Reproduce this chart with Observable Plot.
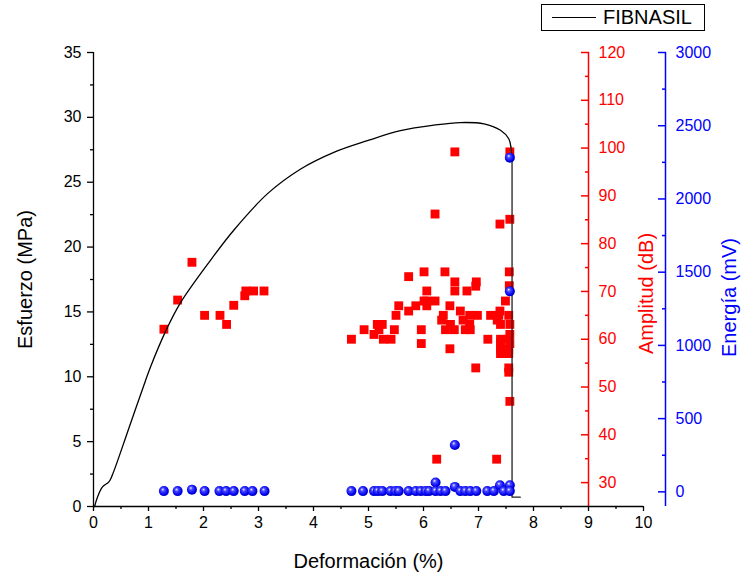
<!DOCTYPE html>
<html>
<head>
<meta charset="utf-8">
<script src="https://cdn.jsdelivr.net/npm/d3@7"></script>
<script src="https://cdn.jsdelivr.net/npm/@observablehq/plot@0.6"></script>
<style>
  html, body { margin: 0; padding: 0; background: white; }
  #chart { position: relative; width: 742px; height: 577px; font-family: "Liberation Sans", Arial, sans-serif; }
  #chart svg { position: absolute; left: 0; top: 0; }
  #legend { position: absolute; left: 541px; top: 4px; width: 164px; height: 27px; box-sizing: border-box;
            border: 1px solid #000; background: white; z-index: 5; }
  #legend .ln { position: absolute; left: 10px; top: 12px; width: 44px; border-top: 1.3px solid #000; }
  #legend .tx { position: absolute; left: 61px; top: 1px; font-size: 20px; line-height: 22px; color: #000; }
</style>
</head>
<body>
<div id="chart"><div id="legend"><div class="ln"></div><div class="tx"></div></div></div>
<script>
// ---------- data ----------
const seriesName = "FIBNASIL";
const xTitle = "Deformación (%)";
const stressTitle = "Esfuerzo (MPa)";
const ampTitle = "Amplitud (dB)";
const enTitle = "Energía (mV)";

const xTicks = [0, 1, 2, 3, 4, 5, 6, 7, 8, 9, 10];
const xMinor = [0.5, 1.5, 2.5, 3.5, 4.5, 5.5, 6.5, 7.5, 8.5, 9.5];
const stressTicks = [0, 5, 10, 15, 20, 25, 30, 35];
const stressMinor = [2.5, 7.5, 12.5, 17.5, 22.5, 27.5, 32.5];
const ampTicks = [30, 40, 50, 60, 70, 80, 90, 100, 110, 120];
const ampMinor = [35, 45, 55, 65, 75, 85, 95, 105, 115];
const enTicks = [0, 500, 1000, 1500, 2000, 2500, 3000];
const enMinor = [250, 750, 1250, 1750, 2250, 2750];

// stress-strain curve: smooth rise to the peak, then the sudden drop at failure
const strainX   = [0.02, 0.07, 0.16, 0.28, 0.34, 0.64, 0.945, 1.04, 1.31, 1.58, 2.13, 2.55, 3.16, 3.76, 4.37, 4.98, 5.58, 6.19, 6.67, 7.1, 7.4, 7.55, 7.59];
const stressMPa = [0, 0.7, 1.5, 1.9, 2.4, 6.0, 9.7, 10.8, 13.5, 15.7, 19.0, 21.3, 24.1, 26.0, 27.3, 28.2, 28.97, 29.4, 29.6, 29.5, 29.0, 28.35, 27.7];
const dropX     = [7.59, 7.61, 7.61, 7.76];
const dropMPa   = [27.7, 27.0, 0.72, 0.72];

// amplitude events (red squares)
const ampX  = [1.28, 1.53, 1.79, 2.02, 2.30, 2.42, 2.55, 2.75, 2.77, 2.91, 3.10,
  4.69, 4.92, 5.10, 5.16, 5.19, 5.25, 5.27, 5.41, 5.47, 5.50, 5.55, 5.73, 5.73, 5.86, 5.96, 5.96,
  6.01, 6.06, 6.06, 6.06, 6.01, 6.21, 6.21, 6.24, 6.33, 6.36, 6.39, 6.40, 6.48, 6.48, 6.49, 6.56,
  6.57, 6.57, 6.57, 6.67, 6.72, 6.76, 6.79, 6.84, 6.84, 6.85, 6.95, 6.96, 6.95, 6.98, 7.17, 7.22,
  7.33, 7.34, 7.37, 7.39, 7.39, 7.40, 7.40, 7.40, 7.40, 7.40, 7.49, 7.55, 7.55, 7.55, 7.55, 7.55,
  7.55, 7.56, 7.56, 7.57, 7.57, 7.57, 7.57, 7.57, 7.57];
const ampDB = [62.1, 68.2, 76.1, 65.0, 65.0, 63.1, 67.1, 69.1, 70.1, 70.1, 70.1,
  60.0, 62.0, 61.0, 63.1, 62.0, 63.1, 60.0, 60.0, 62.0, 65.0, 67.0, 73.1, 65.9, 67.0, 62.0, 59.1,
  74.1, 70.1, 68.0, 67.0, 68.0, 68.0, 86.2, 34.9, 64.0, 65.0, 74.1, 62.0, 67.0, 58.0, 63.1, 62.0,
  99.2, 72.0, 70.1, 65.9, 64.0, 62.0, 70.1, 65.0, 63.1, 62.0, 71.1, 72.0, 54.0, 65.0, 60.0, 65.0,
  34.9, 64.0, 65.0, 84.1, 65.9, 63.1, 60.0, 59.1, 58.0, 57.0, 68.0, 65.0, 60.0, 58.0, 57.0, 54.0,
  53.1, 74.1, 71.2, 99.2, 85.1, 63.1, 61.0, 59.1, 47.0];

// energy events (blue balls)
const enX  = [1.28, 1.53, 1.79, 2.02, 2.29, 2.41, 2.55, 2.75, 2.89, 3.11,
  4.69, 4.90, 5.10, 5.17, 5.25, 5.40, 5.49, 5.55, 5.73, 5.86, 5.95, 6.04, 6.10, 6.22, 6.22,
  6.31, 6.40, 6.57, 6.57, 6.67, 6.76, 6.85, 6.96, 7.16, 7.28, 7.39, 7.46, 7.57, 7.57, 7.57, 7.57];
const enMV = [5, 5, 15, 5, 5, 5, 5, 5, 5, 5,
  5, 5, 5, 5, 5, 5, 5, 5, 5, 5, 5, 5, 5, 64, 5,
  5, 5, 34, 320, 5, 5, 5, 5, 5, 5, 45, 5, 45, 5, 1369, 2282];

// ---------- layout ----------
const W = 742, H = 577, mTop = 52, mBottom = 71, mLeft = 93;
const font = `"Liberation Sans", Arial, sans-serif`;
const chart = document.getElementById("chart");
document.querySelector("#legend .tx").textContent = seriesName;

const curve = strainX.map((x, i) => ({x, y: stressMPa[i]}));
const drop = dropX.map((x, i) => ({x, y: dropMPa[i]}));
const amp = ampX.map((x, i) => ({x, y: ampDB[i]}));
const en = enX.map((x, i) => ({x, y: enMV[i]}));
const blank = () => "";
const plain = d3.format("d");
const titleOpts = {text: d => d, textAnchor: "middle", lineAnchor: "middle", fontSize: 20};

// red layer (bottom, white background); axis at x = 9
const redPlot = Plot.plot({
  width: W, height: H, marginTop: mTop, marginBottom: mBottom, marginLeft: mLeft, marginRight: 154,
  style: {fontFamily: font, fontSize: "16px", background: "white", overflow: "visible"},
  x: {domain: [0, 9], axis: null},
  y: {domain: [25, 120], axis: null},
  marks: [
    Plot.dot(amp, {x: "x", y: "y", symbol: "square", r: 5, fill: "#ff0000", stroke: "none"}),
    Plot.ruleX([9], {stroke: "#ff0000", strokeWidth: 1.5}),
    Plot.axisY(ampMinor, {anchor: "right", dx: -4, tickSize: 4, tickFormat: blank, stroke: "#ff0000", strokeWidth: 1.5, label: null}),
    Plot.axisY(ampTicks, {anchor: "right", dx: -8, tickSize: 8, tickPadding: 10, tickFormat: plain, stroke: "#ff0000", fill: "#ff0000", strokeWidth: 1.5, label: null}),
    Plot.text([ampTitle], {...titleOpts, frameAnchor: "right", dx: 58, dy: 14, rotate: -90, fill: "#ff0000"})
  ]
});

// stress layer (transparent)
const stressPlot = Plot.plot({
  width: W, height: H, marginTop: mTop, marginBottom: mBottom, marginLeft: mLeft, marginRight: 99,
  style: {fontFamily: font, fontSize: "16px", background: "transparent", overflow: "visible"},
  x: {domain: [0, 10], axis: null},
  y: {domain: [0, 35], axis: null},
  marks: [
    Plot.axisX(xMinor, {tickSize: 3, tickFormat: blank, strokeWidth: 1.3, label: null}),
    Plot.axisX(xTicks, {tickSize: 5, tickPadding: 5, tickFormat: plain, strokeWidth: 1.3, label: null}),
    Plot.axisY(stressMinor, {tickSize: 3, tickFormat: blank, strokeWidth: 1.3, label: null}),
    Plot.axisY(stressTicks, {tickSize: 6, tickPadding: 6, tickFormat: plain, strokeWidth: 1.3, label: null}),
    Plot.ruleY([0], {stroke: "black", strokeWidth: 1.3}),
    Plot.ruleX([0], {stroke: "black", strokeWidth: 1.3}),
    Plot.line(curve, {x: "x", y: "y", stroke: "black", strokeWidth: 1.3, curve: "catmull-rom"}),
    Plot.line(drop, {x: "x", y: "y", stroke: "#222", strokeWidth: 1.3, curve: "linear"}),
    Plot.text([stressTitle], {...titleOpts, frameAnchor: "left", dx: -68, rotate: -90, fill: "black"}),
    Plot.text([xTitle], {...titleOpts, frameAnchor: "bottom", dy: 55, fill: "black"})
  ]
});

// blue layer (top); axis at x = 10.4
const bluePlot = Plot.plot({
  width: W, height: H, marginTop: mTop, marginBottom: mBottom, marginLeft: mLeft, marginRight: 77,
  style: {fontFamily: font, fontSize: "16px", background: "transparent", overflow: "visible"},
  x: {domain: [0, 10.4], axis: null},
  y: {domain: [-100, 3000], axis: null},
  marks: [
    Plot.ruleX([10.4], {stroke: "#0000ff", strokeWidth: 1.5}),
    Plot.axisY(enMinor, {anchor: "right", dx: -4, tickSize: 4, tickFormat: blank, stroke: "#0000ff", strokeWidth: 1.5, label: null}),
    Plot.axisY(enTicks, {anchor: "right", dx: -8, tickSize: 8, tickPadding: 10, tickFormat: plain, stroke: "#0000ff", fill: "#0000ff", strokeWidth: 1.5, label: null}),
    Plot.text([enTitle], {...titleOpts, frameAnchor: "right", dx: 64, dy: 18, rotate: -90, fill: "#0000ff"}),
    Plot.dot(en, {x: "x", y: "y", r: 5, fill: "url(#ballGrad)", stroke: "none"})
  ]
});

const defs = d3.select(bluePlot).insert("defs", ":first-child");
const g = defs.append("radialGradient").attr("id", "ballGrad")
  .attr("cx", "45%").attr("cy", "45%").attr("r", "60%").attr("fx", "38%").attr("fy", "32%");
g.append("stop").attr("offset", "0%").attr("stop-color", "#f0f0ff");
g.append("stop").attr("offset", "28%").attr("stop-color", "#4a4aff");
g.append("stop").attr("offset", "75%").attr("stop-color", "#0000f0");
g.append("stop").attr("offset", "100%").attr("stop-color", "#00009a");

chart.appendChild(redPlot);
chart.appendChild(stressPlot);
chart.appendChild(bluePlot);
</script>
</body>
</html>
